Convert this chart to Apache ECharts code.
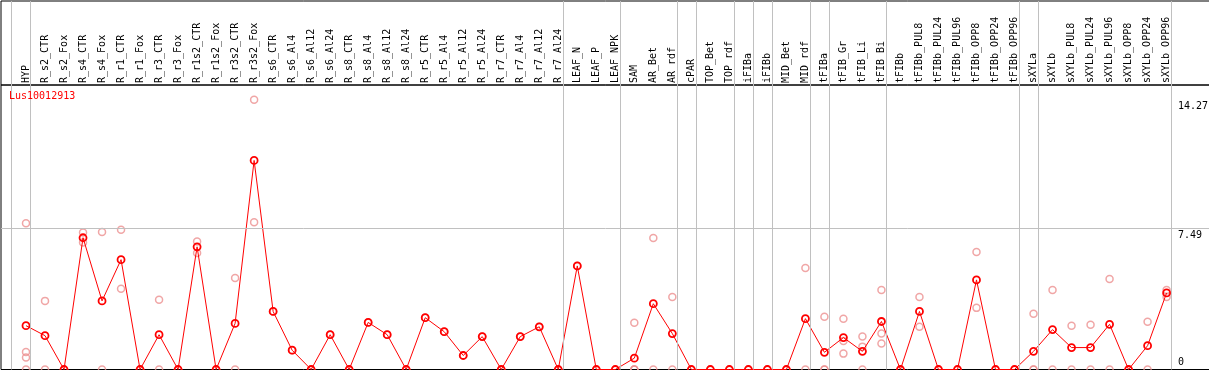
<!DOCTYPE html>
<html>
<head>
<meta charset="utf-8">
<script src="https://cdn.jsdelivr.net/npm/echarts@6/dist/echarts.min.js"></script>
<style>
  html, body { margin: 0; padding: 0; background: #fff; }
  #chart { width: 1209px; height: 370px; }
</style>
</head>
<body>
<div id="chart"></div>
<script>
var geneName = 'Lus10012913';

var categories = [
    'HYP', 'R_s2_CTR', 'R_s2_Fox', 'R_s4_CTR', 'R_s4_Fox', 'R_r1_CTR', 'R_r1_Fox',
    'R_r3_CTR', 'R_r3_Fox', 'R_r1s2_CTR', 'R_r1s2_Fox', 'R_r3s2_CTR', 'R_r3s2_Fox',
    'R_s6_CTR', 'R_s6_Al4', 'R_s6_Al12', 'R_s6_Al24', 'R_s8_CTR', 'R_s8_Al4',
    'R_s8_Al12', 'R_s8_Al24', 'R_r5_CTR', 'R_r5_Al4', 'R_r5_Al12', 'R_r5_Al24',
    'R_r7_CTR', 'R_r7_Al4', 'R_r7_Al12', 'R_r7_Al24', 'LEAF_N', 'LEAF_P', 'LEAF_NPK',
    'SAM', 'AR_Bet', 'AR_rdf', 'cPAR', 'TOP_Bet', 'TOP_rdf', 'iFIBa', 'iFIBb',
    'MID_Bet', 'MID_rdf', 'tFIBa', 'tFIB_Gr', 'tFIB_Li', 'tFIB_Bi', 'tFIBb',
    'tFIBb_PUL8', 'tFIBb_PUL24', 'tFIBb_PUL96', 'tFIBb_OPP8', 'tFIBb_OPP24', 'tFIBb_OPP96',
    'sXYLa', 'sXYLb', 'sXYLb_PUL8', 'sXYLb_PUL24', 'sXYLb_PUL96', 'sXYLb_OPP8',
    'sXYLb_OPP24', 'sXYLb_OPP96'
];

// mean expression per sample
var meanValues = [
    2.32, 1.79, 0, 6.97, 3.63, 5.81, 0,
    1.84, 0, 6.49, 0, 2.44, 11.06,
    3.07, 1.02, 0, 1.84, 0, 2.49,
    1.84, 0, 2.74, 2.00, 0.74, 1.74,
    0, 1.74, 2.26, 0, 5.48, 0, 0,
    0.60, 3.48, 1.90, 0, 0, 0, 0, 0,
    0, 2.69, 0.91, 1.69, 0.96, 2.54, 0,
    3.07, 0, 0, 4.74, 0, 0,
    0.96, 2.11, 1.16, 1.16, 2.39, 0,
    1.26, 4.05
];

// individual replicates per sample
var replicateValues = [
    [7.74, 0.93, 0.63, 0], [3.63, 0], [0], [7.25, 6.72], [7.28, 0], [7.39, 4.27], [0],
    [3.69, 0], [0], [6.77, 6.16], [0], [4.84, 0], [14.27, 7.79],
    [3.07], [1.02], [0], [1.84], [0], [2.49],
    [1.84], [0], [2.74], [2.00], [0.74], [1.74],
    [0], [1.74], [2.26], [0], [5.48], [0], [0],
    [2.47, 0, 0, 0], [6.95, 0], [3.84, 0], [0], [0], [0], [0], [0],
    [0], [5.37, 0], [2.79, 0, 0], [2.69, 1.51, 0.84], [1.74, 1.21, 0], [4.21, 1.90, 1.37], [0],
    [3.84, 2.26], [0], [0], [6.21, 3.26], [0], [0],
    [2.95, 0, 0], [4.21, 0], [2.32, 0], [2.37, 0], [4.79, 0], [0],
    [2.53, 0], [4.21, 3.84]
];

// last sample index of each group (-1 = before the first one)
var groupEnds = [-1, 0, 28, 31, 34, 35, 37, 38, 39, 41, 42, 45, 52, 53, 60];

var refLine = 7.49;
var yTicksUpper = [7.49, 14.27];
var yTicksLower = [0];

var myChart = echarts.init(document.getElementById('chart'));

var MONO = 'DejaVu Sans Mono';
var X_MIN = -1.315, X_MAX = 62.441;
var Y_MAX = 15.05;
var SEP_SHIFT = 0.237;
var GRAY = '#c0c0c0';

var repData = [];
replicateValues.forEach(function (reps, i) {
    reps.forEach(function (v) { repData.push([i, v]); });
});
var meanData = meanValues.map(function (v, i) { return [i, v]; });
var sepLines = groupEnds.map(function (g) { return { xAxis: g + SEP_SHIFT }; });

function rightAxis(ticks, vAlign, extra) {
    return echarts.util.merge({
        gridIndex: 1, type: 'value', position: 'right', min: 0, max: Y_MAX,
        axisLine: { show: false },
        axisTick: { show: false },
        splitLine: { show: false },
        axisLabel: {
            customValues: ticks,
            inside: true,
            align: 'left',
            verticalAlign: vAlign,
            margin: 35,
            color: '#000',
            fontSize: 10,
            fontFamily: MONO
        }
    }, extra, true);
}

var option = {
    animation: false,
    title: {
        text: geneName,
        left: 9,
        top: 91,
        padding: 0,
        textStyle: { color: '#ff0000', fontSize: 10, fontFamily: MONO, fontWeight: 'normal' }
    },
    grid: [
        { left: 1, width: 1212, top: 1, height: 84, outerBoundsMode: 'none', show: true, borderColor: '#000', borderWidth: 1, backgroundColor: 'transparent' },
        { left: 1, width: 1212, top: 85, bottom: 0.5, outerBoundsMode: 'none', show: true, borderColor: '#000', borderWidth: 1, backgroundColor: 'transparent' }
    ],
    xAxis: [
        { gridIndex: 0, type: 'value', min: X_MIN, max: X_MAX, show: false },
        {
            gridIndex: 1, type: 'value', position: 'top', min: X_MIN, max: X_MAX,
            axisLine: { show: false },
            axisTick: { show: false },
            splitLine: { show: false },
            axisLabel: {
                customValues: categories.map(function (c, i) { return i; }),
                rotate: 90,
                margin: 2,
                fontSize: 10,
                fontFamily: MONO,
                color: '#000',
                formatter: function (v) { return categories[v]; }
            }
        }
    ],
    yAxis: [
        { gridIndex: 0, type: 'value', min: 0, max: 1, show: false },
        rightAxis(yTicksUpper, 'top', {
            axisLabel: {
                formatter: function (v, i) { return (i === 0 ? '{mid|' : '{hi|') + v + '}'; },
                rich: {
                    mid: { fontSize: 10, fontFamily: MONO, lineHeight: 8 },
                    hi: { fontSize: 10, fontFamily: MONO, lineHeight: 14 }
                }
            }
        }),
        rightAxis(yTicksLower, 'bottom', { axisLabel: { lineHeight: 15 } })
    ],
    series: [
        {
            // separators through the header
            type: 'line', xAxisIndex: 0, yAxisIndex: 0, data: [],
            markLine: {
                silent: true, symbol: 'none', label: { show: false },
                lineStyle: { color: GRAY, width: 1, type: 'solid' },
                data: sepLines
            }
        },
        {
            name: 'replicates',
            type: 'scatter', xAxisIndex: 1, yAxisIndex: 1,
            data: repData,
            symbol: 'circle',
            symbolSize: 7,
            z: 2,
            itemStyle: { color: 'transparent', borderColor: '#ec9090', borderWidth: 1.5 },
            markLine: {
                silent: true, symbol: 'none', label: { show: false },
                lineStyle: { color: GRAY, width: 1, type: 'solid' },
                data: sepLines.concat([{ yAxis: refLine }])
            }
        },
        {
            name: geneName,
            type: 'line', xAxisIndex: 1, yAxisIndex: 1,
            data: meanData,
            symbol: 'circle',
            symbolSize: 7,
            z: 3,
            lineStyle: { color: '#ff0000', width: 1 },
            itemStyle: { color: 'transparent', borderColor: '#ff0000', borderWidth: 1.8 }
        }
    ]
};

myChart.setOption(option);
</script>
</body>
</html>
